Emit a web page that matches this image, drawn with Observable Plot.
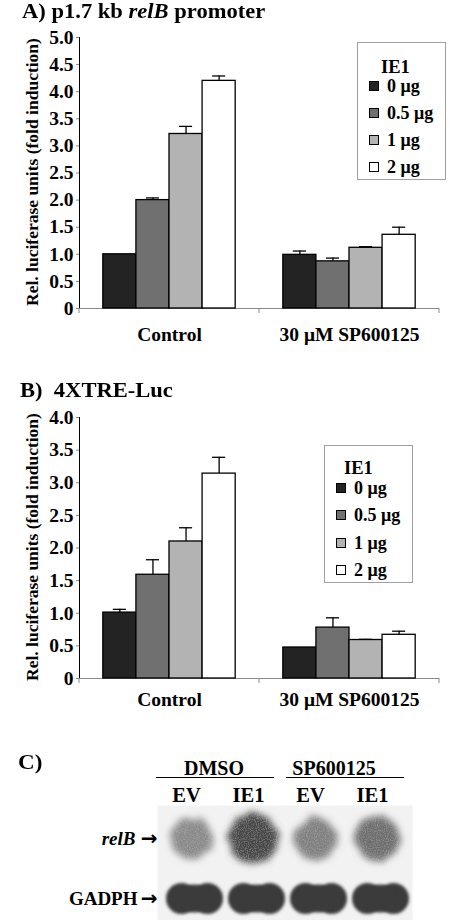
<!DOCTYPE html>
<html>
<head>
<meta charset="utf-8">
<script src="https://cdn.jsdelivr.net/npm/d3@7"></script>
<script src="https://cdn.jsdelivr.net/npm/@observablehq/plot@0.6"></script>
<style>
  html, body { margin: 0; padding: 0; background: white; }
  #root { position: relative; width: 450px; height: 920px; overflow: hidden; background: white; }
  .abs { position: absolute; white-space: nowrap; font-family: 'Liberation Serif', 'Times New Roman', serif; font-weight: bold; color: black; }
  .plotwrap { position: absolute; left: 0; }
</style>
</head>
<body>
<div id="root"></div>
<script>
// ---------------- data ----------------
const groups = ["Control", "30 μM SP600125"];
const doses = ["0 μg", "0.5 μg", "1 μg", "2 μg"];
const doseColors = ["#232323", "#707070", "#b3b3b3", "#ffffff"];
const legendTitle = "IE1";

// Panel A: p1.7 kb relB promoter (means and SD, order: Control x4, SP600125 x4)
const aValues = [1.00, 2.00, 3.22, 4.20, 0.99, 0.87, 1.12, 1.36];
const aErrors = [0.00, 0.04, 0.14, 0.09, 0.07, 0.06, 0.02, 0.14];
const aTicks = [0, 0.5, 1, 1.5, 2, 2.5, 3, 3.5, 4, 4.5, 5];

// Panel B: 4XTRE-Luc
const bValues = [1.01, 1.59, 2.10, 3.14, 0.475, 0.78, 0.59, 0.67];
const bErrors = [0.05, 0.23, 0.21, 0.25, 0.00, 0.15, 0.01, 0.055];
const bTicks = [0, 0.5, 1, 1.5, 2, 2.5, 3, 3.5, 4];

const yLabel = "Rel. luciferase units (fold induction)";

// Panel C: northern blot
const blotGroups = ["DMSO", "SP600125"];
const lanes = ["DMSO EV", "DMSO IE1", "SP EV", "SP IE1"];
const laneLabels = ["EV", "IE1", "EV", "IE1"];
const blotRows = ["relB", "GADPH"];
const relBLevel = [0.46, 0.72, 0.50, 0.57];   // band darkness (0 = white, 1 = black)
const gapdhLevel = [0.77, 0.77, 0.77, 0.77];

// ---------------- helpers ----------------
const root = document.getElementById("root");
const FONT = "'Liberation Serif', 'Times New Roman', serif";

function textAt(html, x, baseline, fs, anchor = "start", stretch = 1) {
  const el = document.createElement("div");
  el.className = "abs";
  el.style.fontSize = fs + "px";
  el.style.lineHeight = fs + "px";
  el.style.top = (baseline - 0.8375 * fs) + "px";
  el.style.left = x + "px";
  const tx = anchor === "middle" ? "translateX(-50%) " : anchor === "end" ? "translateX(-100%) " : "";
  el.style.transformOrigin = anchor === "middle" ? "50% 50%" : anchor === "end" ? "100% 50%" : "0 50%";
  el.style.transform = tx + (stretch !== 1 ? `scaleX(${stretch})` : "");
  el.innerHTML = html;
  root.appendChild(el);
  return el;
}

function rowsFrom(values, errors) {
  return groups.flatMap((g, i) => doses.map((d, j) => ({group: g, dose: d, value: values[i * 4 + j], err: errors[i * 4 + j]})));
}

function barPanel(values, errors, ticks, top, height, marginTop, marginBottom, fxPad) {
  const rows = rowsFrom(values, errors);
  const withErr = rows.filter(d => d.err > 0.004);
  const plot = Plot.plot({
    width: 450, height,
    marginTop, marginBottom, marginLeft: 78, marginRight: 11,
    style: {fontFamily: FONT, fontWeight: "bold", fontSize: "19.5px", background: "transparent", color: "black"},
    fx: {domain: groups, padding: 0, axis: "bottom", tickSize: 0, tickPadding: fxPad, label: null},
    x: {domain: doses, axis: null, paddingInner: 0, paddingOuter: 0.72, round: false},
    y: {domain: [0, ticks[ticks.length - 1]], ticks, tickFormat: d => d === 0 ? "0" : d.toFixed(1),
        tickSize: 3, tickPadding: 3, label: null, line: true},
    color: {domain: doses, range: doseColors},
    marks: [
      Plot.ruleY([0], {stroke: "#8a8a8a", strokeWidth: 1}),
      Plot.barY(rows, {fx: "group", x: "dose", y: "value", fill: "dose", stroke: "black", strokeWidth: 1.3}),
      Plot.ruleX(withErr, {fx: "group", x: "dose", y1: "value", y2: d => d.value + d.err, stroke: "black", strokeWidth: 1.3}),
      Plot.tickY(withErr, {fx: "group", x: "dose", y: d => d.value + d.err, stroke: "black", strokeWidth: 1.3, insetLeft: 10, insetRight: 10})
    ]
  });
  const wrap = document.createElement("div");
  wrap.className = "plotwrap";
  wrap.style.top = top + "px";
  wrap.appendChild(plot);
  root.appendChild(wrap);

  const svg = d3.select(plot);
  svg.selectAll("g[aria-label^='y-axis'] line, g[aria-label^='y-axis'] path").attr("stroke", "#8a8a8a");
  svg.selectAll("g[aria-label^='y-axis'] text, g[aria-label^='fx-axis'] text")
    .style("font-size", "19.5px").style("font-weight", "bold").style("font-family", FONT);
  // facet boundary ticks on the category axis
  const fx = plot.scale("fx");
  const y = plot.scale("y");
  const y0 = y.apply(0);
  const edges = groups.map(g => fx.apply(g)).concat([fx.apply(groups[groups.length - 1]) + fx.bandwidth]);
  svg.append("g").attr("aria-label", "category ticks")
    .selectAll("line").data(edges).join("line")
    .attr("x1", d => d).attr("x2", d => d)
    .attr("y1", y0).attr("y2", y0 + 5)
    .attr("stroke", "#8a8a8a");
  return plot;
}

function legendBox(left, top, titleLeft, titleBase, firstCenter, step) {
  const box = document.createElement("div");
  box.style.cssText = `position:absolute;left:${left}px;top:${top}px;width:87px;height:136px;border:1px solid #a0a0a0;background:white;`;
  root.appendChild(box);
  const t = document.createElement("div");
  t.className = "abs";
  t.style.cssText += `font-size:18.5px;line-height:18.5px;left:${titleLeft}px;top:${titleBase - 0.8375 * 18.5}px;`;
  t.textContent = legendTitle;
  box.appendChild(t);
  doses.forEach((d, i) => {
    const c = firstCenter + i * step;
    const sw = document.createElement("div");
    sw.style.cssText = `position:absolute;left:11px;top:${c - 5}px;width:8px;height:8px;border:1px solid black;background:${doseColors[i]};`;
    box.appendChild(sw);
    const lab = document.createElement("div");
    lab.className = "abs";
    lab.style.cssText += `font-size:18px;line-height:18px;left:29px;top:${c + 6 - 0.8375 * 18}px;`;
    lab.textContent = d;
    box.appendChild(lab);
  });
}

function yTitle(cx, cy) {
  const el = document.createElement("div");
  el.className = "abs";
  el.style.fontSize = "17.5px";
  el.style.lineHeight = "17.5px";
  el.style.left = cx + "px";
  el.style.top = cy + "px";
  el.style.transform = "translate(-50%, -50%) rotate(-90deg)";
  el.textContent = yLabel;
  root.appendChild(el);
}

// ---------------- Panel A ----------------
barPanel(aValues, aErrors, aTicks, 0, 350, 37, 42, 19);
textAt("A) p1.7 kb <i>relB</i> promoter", 22, 18.5, 20.5, "start", 1.1);
yTitle(33, 172);
legendBox(357, 42, 23, 30, 43, 27);

// ---------------- Panel B ----------------
barPanel(bValues, bErrors, bTicks, 350, 370, 67, 42, 14);
textAt("B)&nbsp;&nbsp;4XTRE-Luc", 20, 397, 20.5, "start", 1.1);
yTitle(33, 547);
legendBox(324, 445, 19, 28, 42, 27.3);

// ---------------- Panel C ----------------
const relBData = lanes.map((l, i) => ({lane: l, row: "relB", level: relBLevel[i]}));
const gapdhData = lanes.map((l, i) => ({lane: l, row: "GADPH", level: gapdhLevel[i]}));
const blot = Plot.plot({
  width: 450, height: 180,
  marginTop: 98, marginBottom: 22, marginLeft: 163, marginRight: 39,
  style: {fontFamily: FONT, fontWeight: "bold", fontSize: "19px", background: "transparent", color: "black"},
  x: {type: "point", domain: lanes, padding: 0.5, axis: null},
  y: {type: "point", domain: blotRows, padding: 0, axis: null},
  color: {type: "linear", domain: [0, 1], range: ["white", "black"]},
  r: {type: "linear", domain: [0.4, 0.8], range: [20, 26]},
  marks: [
    Plot.frame({fill: "#f2f2f2", stroke: "none", insetTop: -33, insetBottom: -25, insetLeft: -6, insetRight: -1}),
    Plot.dot(relBData, {x: "lane", y: "row", r: "level", fill: "level", dx: -3}),
    Plot.dot(gapdhData, {x: "lane", y: "row", r: 15.5, dx: -13, fill: "level"}),
    Plot.dot(gapdhData, {x: "lane", y: "row", r: 15.5, dx: 13, fill: "level"}),
    Plot.dot(gapdhData, {x: "lane", y: "row", r: 14, fill: "level"}),
    Plot.text(lanes, {x: d => d, text: (d, i) => laneLabels[i], frameAnchor: "top", dy: -37, dx: -8, lineAnchor: "bottom", fontSize: 20.5}),
    Plot.text(["relB"], {y: d => d, text: d => d, frameAnchor: "left", textAnchor: "end", dx: -28, fontSize: 19, fontStyle: "italic"}),
    Plot.text(["GADPH"], {y: d => d, text: d => d, frameAnchor: "left", textAnchor: "end", dx: -26, fontSize: 19}),
    Plot.text(blotRows, {y: d => d, text: () => "→", frameAnchor: "left", textAnchor: "end", dx: -6, fontSize: 20,
                         fontFamily: "DejaVu Sans"})
  ]
});
{
  const wrap = document.createElement("div");
  wrap.className = "plotwrap";
  wrap.style.top = "740px";
  wrap.appendChild(blot);
  root.appendChild(wrap);
  const svg = d3.select(blot);
  const defs = svg.insert("defs", ":first-child");
  const f1 = defs.append("filter").attr("id", "fuzz").attr("x", "-60%").attr("y", "-60%").attr("width", "220%").attr("height", "220%");
  f1.append("feTurbulence").attr("type", "fractalNoise").attr("baseFrequency", 0.09).attr("numOctaves", 2).attr("seed", 4).attr("result", "warp");
  f1.append("feDisplacementMap").attr("in", "SourceGraphic").attr("in2", "warp").attr("scale", 9)
    .attr("xChannelSelector", "R").attr("yChannelSelector", "G").attr("result", "disp");
  f1.append("feGaussianBlur").attr("in", "disp").attr("stdDeviation", 3.8).attr("result", "blur");
  f1.append("feTurbulence").attr("type", "fractalNoise").attr("baseFrequency", 0.9).attr("numOctaves", 1).attr("seed", 9).attr("result", "grain");
  f1.append("feColorMatrix").attr("in", "grain").attr("type", "matrix")
    .attr("values", "0 0 0 0 1  0 0 0 0 1  0 0 0 0 1  0 0 0 0.45 -0.2").attr("result", "grainW");
  f1.append("feComposite").attr("in", "grainW").attr("in2", "blur").attr("operator", "in").attr("result", "grainIn");
  const m = f1.append("feMerge");
  m.append("feMergeNode").attr("in", "blur");
  m.append("feMergeNode").attr("in", "grainIn");
  const f2 = defs.append("filter").attr("id", "soft").attr("x", "-60%").attr("y", "-60%").attr("width", "220%").attr("height", "220%");
  f2.append("feGaussianBlur").attr("stdDeviation", 1.8);
  const dots = svg.selectAll("g[aria-label='dot']").nodes();
  if (dots[0]) d3.select(dots[0]).attr("filter", "url(#fuzz)");
  dots.slice(1).forEach(n => d3.select(n).attr("filter", "url(#soft)"));
}
textAt("C)", 18, 770, 21, "start", 1.1);
textAt("DMSO", 214, 775, 20, "middle");
textAt("SP600125", 334, 775, 20, "middle");
[[156, 274], [286, 404]].forEach(([x1, x2]) => {
  const ln = document.createElement("div");
  ln.style.cssText = `position:absolute;left:${x1}px;top:776.5px;width:${x2 - x1}px;height:1.5px;background:black;`;
  root.appendChild(ln);
});
</script>
</body>
</html>
